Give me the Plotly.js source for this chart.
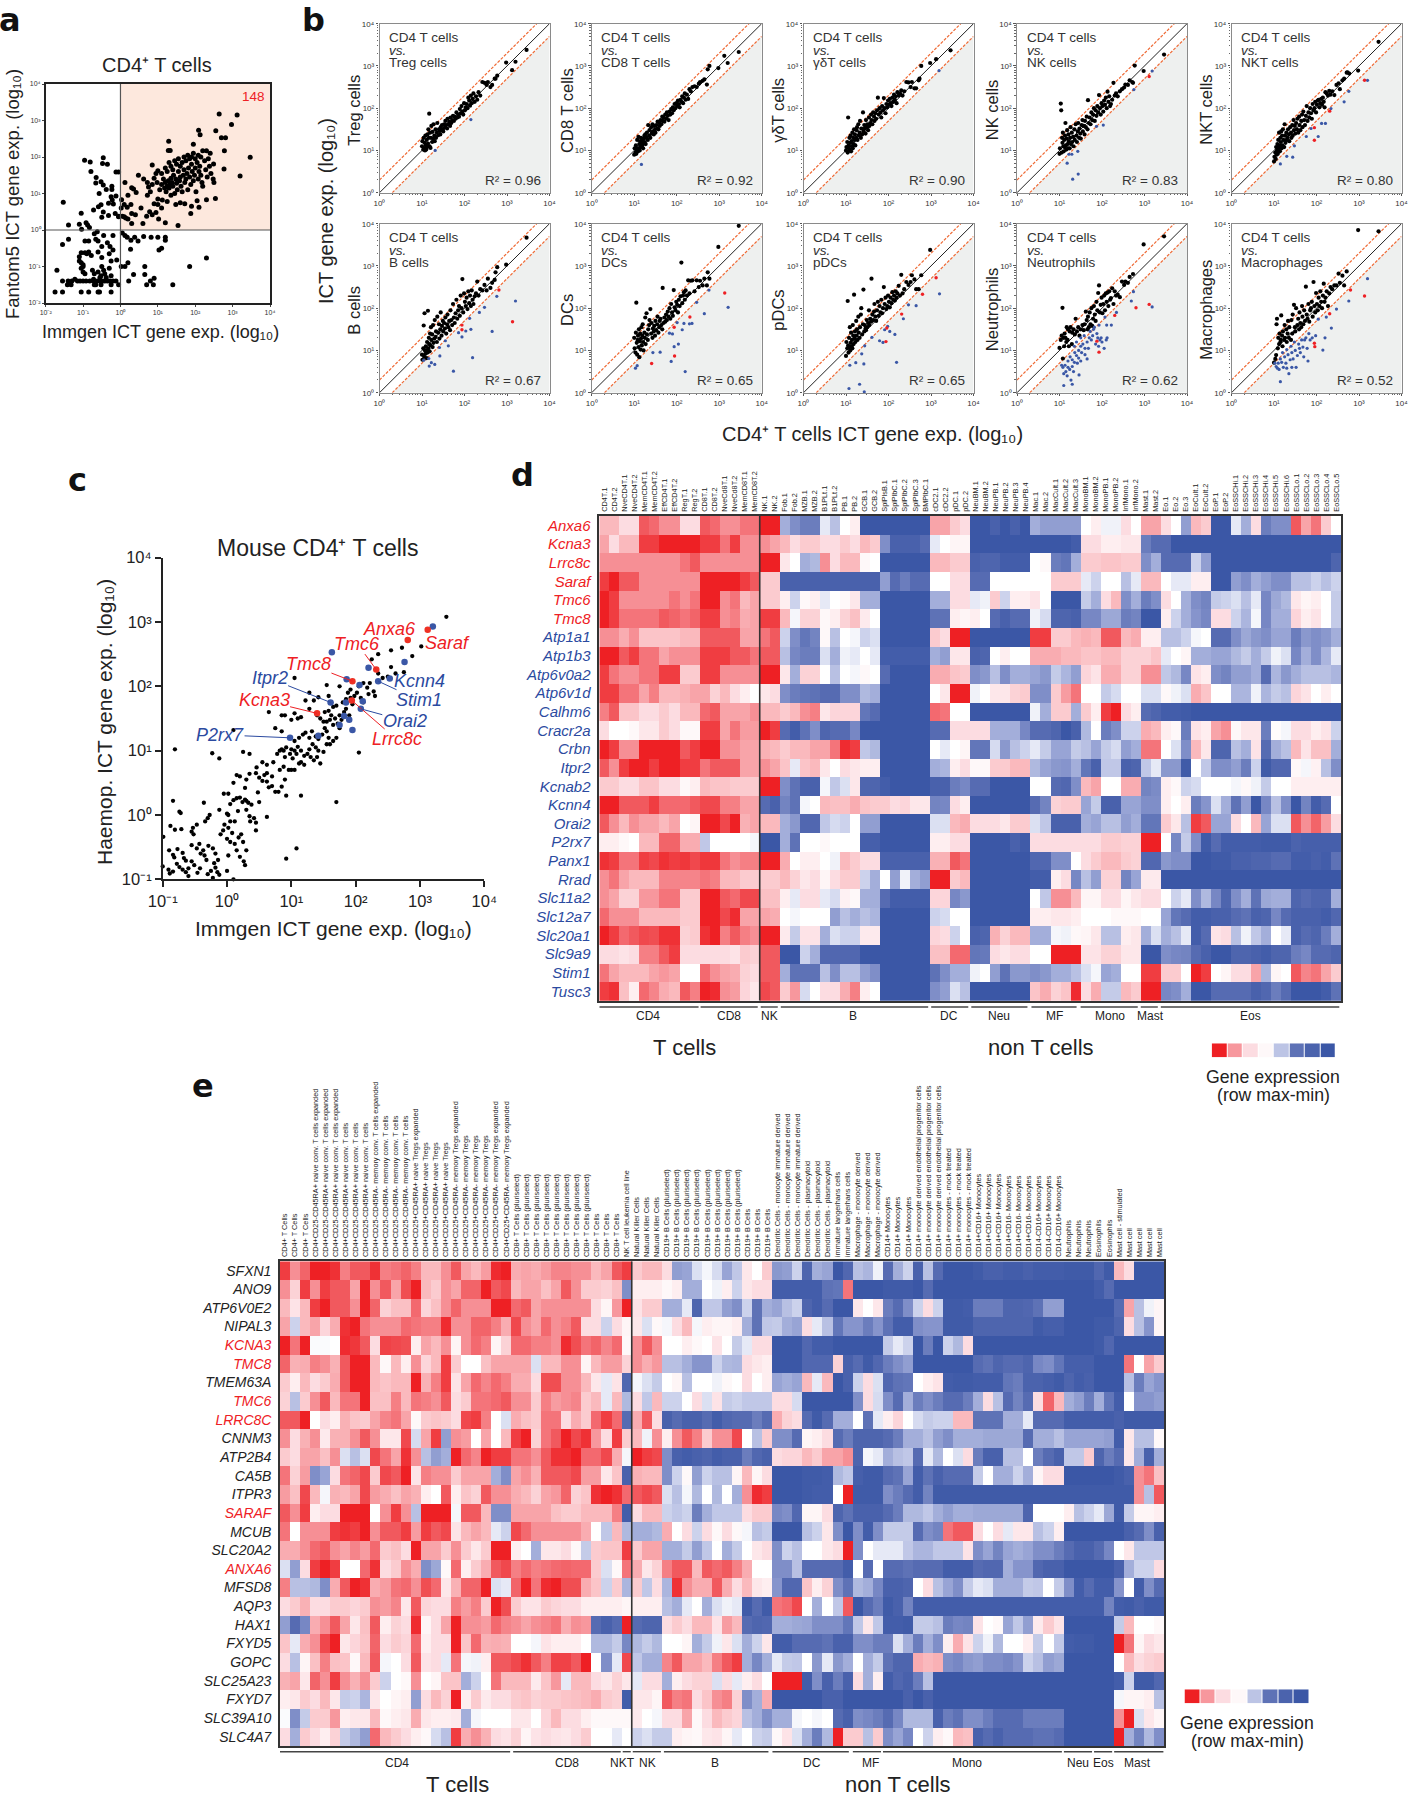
<!DOCTYPE html>
<html>
<head>
<meta charset="utf-8">
<script src="https://cdn.plot.ly/plotly-3.0.1.min.js"></script>
<style>body{margin:0;background:#fff}</style>
</head>
<body>
<div id="chart" style="width:1409px;height:1800px"></div>
<script>
// all expression values are log10, as the axis titles say

// panel a: Immgen vs Fantom5
const aPoints = [
[-.96,1.91],[-.81,1.86],[-.46,1.98],[-.48,1.82],[-.35,1.8],[-.79,1.6],[-.65,1.44],[-.66,1.29],[-.52,1.32],[-.46,1.23],[-.38,1.11],[-.23,1.2],[-.23,1.11],[-.12,1.59],[-.05,1.59],[-.57,1],[-1.53,.76],[-.25,.91],[-.22,.82],[-.32,.73],[-.19,.71],[-.52,.69],[-.59,.64],[-.72,.55],[-1.05,.46],[-.46,.49],[-.32,.4],[-.5,.35],[-.14,.45],[-1.39,.14],[-1.1,.16],[-.92,.2],[-.88,.14],[-.83,.07],[-1.04,.02],[-.05,.38],[-.05,.36],[-.12,.93],
[-1.39,-.25],[-1.55,-.4],[-1.1,-.73],[-1.05,-.62],[-.95,-.3],[-.85,-.3],[-.7,-.1],[-.62,-.05],[-.66,-.25],[-.6,-.3],[-.5,-.45],[-.35,-.35],[-.28,-.45],[-.2,-.55],[-.45,-.15],[-.2,-.15],[-.85,-.6],[-.78,-.7],[-1.1,-.85],[-1.05,-.9],[-1,-.95],[-.95,-.62],[-.9,-.65],[-.6,-.6],[-.5,-.75],[-.3,-.65],[-.25,-.85],[-.1,-.82],[-1.7,-1.1],[-1.05,-1.05],[-1,-1],[-1,-1.15],[-.95,-1.2],[-.75,-1.1],[-.7,-1.2],[-.6,-1.15],[-.5,-1],[-.52,-1.25],[-.45,-1.1],[-.42,-1.2],[-.38,-1.3],[-.3,-1.05],[-.25,-1.25],[-.55,-1.3],[-.72,-1.35],
[-1.55,-1.4],[-1.4,-1.4],[-1.3,-1.4],[-1.22,-1.35],[-1.15,-1.4],[-1.08,-1.4],[-1,-1.4],[-.92,-1.4],[-.82,-1.4],[-.72,-1.4],[-.62,-1.4],[-.55,-1.4],[-.48,-1.4],[-.42,-1.4],[-.35,-1.4],[-.28,-1.4],[-.2,-1.4],[-.12,-1.4],
[-1.42,-1.5],[-1.32,-1.5],[-.7,-1.5],[-.66,-1.5],[-.52,-1.5],[-.25,-1.5],[-.05,-1.5],[-1.75,-1.7],[-1.55,-1.7],[-1.05,-1.7],[-.85,-1.7],[-.6,-1.7],[-.56,-1.7],[-.25,-1.7],
[.05,-.08],[.12,-.15],[.18,-.2],[.38,-.2],[.47,-.3],[.28,-.28],[.27,-.53],[.62,-.18],[.82,-.2],[1,-.2],[1.2,-.2],[1.2,-.28],[1.1,-.5],[1.03,-.55],[.2,-.9],[.12,-1],[.02,-1],[.35,-1.22],[.65,-1],[.65,-1.22],[.8,-1.4],[.9,-1.32],[.88,-1.5],[.7,-1.5],[1.4,-1.5],[.22,-1.4],[1.85,-1],[2.3,-.77],
[.05,.38],[.1,.36],[.14,.33],[.2,.3],[.02,.6],[.1,.7],[.18,.62],[.28,.7],[.03,.83],[.2,.95],[.42,1.03],[.3,1.16],[.35,1.12],[.12,1.3],[.48,1.5],[.62,1.4],[.3,.45],[.3,.18],[.4,.42],[.55,.6],[.6,.18],[.7,.38],[.78,.5],[.85,.42],[.95,.48],[1.02,.3],[1.1,.6],[1.2,.2],[1.54,.12],[1.88,.45],[2.3,.83],[2.54,.86],[.72,.95],[.8,1.05],[.9,.72],[1,.7],[1,.85],[1.12,.82],[1.25,.78],[1.35,.95],[1.48,.7],[1.6,.75],[1.72,.72],[1.9,.65],[2.05,.8],[2.1,.62],
[.75,1.18],[.85,1.25],[.9,1.42],[.72,1.3],[.98,1.3],[1.05,1.1],[1.1,1.25],[1.18,1.15],[1.15,1.4],[1.2,1.3],[1.22,1.05],[1.25,1.2],[1.28,1.35],[1.3,1.15],[1.32,1.25],[1.35,1.42],[1.38,1.3],[1.4,1.2],[1.42,1.5],[1.45,1],[1.48,1.4],[1.5,1.28],[1.52,1.1],[1.55,1.6],[1.58,1.35],[1.6,1.45],[1.62,1.2],[1.65,1.05],[1.68,1.5],[1.7,1.65],[1.72,1.3],[1.75,1.4],[1.78,1.55],[1.8,1.1],[1.82,1.7],[1.85,1.45],[1.88,1.25],[1.9,1.8],[1.92,1.6],[1.95,1.35],[1.98,1.5],[2,1.7],[2.02,1.05],[2.05,1.85],[2.08,1.4],[2.1,1.6],[2.12,1.75],[2.15,1.5],[2.18,1.3],[2.2,1.2],[2.25,1.9],[2.28,1.65],[2.32,1.45],[2.38,1.75],[2.42,1.55],[2.48,1.4],[2.5,1.3],
[1.1,1.55],[1.2,1.7],[1.25,1.6],[1.3,1.85],[1.35,1.75],[1.4,1.65],[1.45,1.9],[1.5,1.8],[1.55,1.95],[1.6,1.75],[1.65,1.85],[1.7,2],[1.75,1.9],[1.8,2.05],[1.85,1.95],[1.9,2],[1.95,2.1],[2,1.95],[2.08,2.05],[2.15,2],[2.2,2.17],[2.3,2.17],[2.4,2.1],[2.35,1.95],[.85,1.78],[.95,1.55],[1,1.62],[1.28,2.18],[1.33,2.18],[1.29,2.43],[1.95,2.35],[2.49,1.81],[2.77,1.67],[2.78,2.17],[3.47,1.99],[3.2,1.48],[2.09,2.73],[2.13,2.61],[2.55,2.72],[2.7,2.53],[2.81,2.53],[2.97,2.89],[2.64,3.18],[3.12,3.15]
];

// panel b: CD4 T cells on x, same genes in all ten panels
const cd4X = [
1.00,1.01,1.03,1.04,1.05,1.06,1.07,1.08,1.09,1.10,
1.11,1.12,1.13,1.14,1.15,1.16,1.17,1.18,1.19,1.20,
1.21,1.22,1.24,1.25,1.26,1.27,1.29,1.30,1.32,1.33,
1.35,1.36,1.38,1.40,1.41,1.43,1.44,1.46,1.47,1.49,
1.50,1.52,1.54,1.55,1.57,1.59,1.60,1.62,1.64,1.66,
1.67,1.69,1.71,1.73,1.75,1.77,1.79,1.81,1.83,1.85,
1.87,1.89,1.91,1.93,1.95,1.97,1.99,2.01,2.03,2.05,
2.07,2.09,2.11,2.13,2.15,2.17,2.19,2.21,2.24,2.27,
2.30,2.33,2.37,2.42,2.47,2.52,2.55,2.61,2.65,2.71,
2.73,2.77,2.98,3.12,3.20,3.46];
const yTreg = [
1.10,1.22,1.02,1.30,1.05,1.18,1.00,1.35,1.12,1.02,
1.25,1.08,1.38,1.16,1.50,1.30,1.87,1.10,1.42,1.06,
1.30,1.58,1.20,1.44,1.28,1.62,1.35,1.22,1.50,1.30,
1.42,1.65,1.36,1.50,1.46,1.38,1.55,1.48,1.60,1.50,
1.45,1.62,1.55,1.70,1.60,1.52,1.75,1.62,1.68,1.58,
1.78,1.65,1.72,1.82,1.70,1.80,1.75,1.90,1.78,1.85,
1.80,1.98,1.88,2.05,1.92,1.85,2.12,1.95,2.02,2.10,
2.00,2.25,2.18,2.06,2.30,2.12,2.22,2.35,2.15,2.28,
2.20,2.38,2.30,2.62,2.60,2.55,2.62,2.50,2.55,2.70,
2.70,2.77,3.08,2.90,3.10,3.38];
const yCd8 = [
0.90,1.05,0.95,1.12,0.92,1.00,1.25,1.05,0.98,1.32,
1.02,1.15,1.00,1.22,1.08,1.30,1.18,1.10,1.25,1.14,
1.05,1.28,1.35,1.20,1.38,1.15,1.30,1.42,1.25,1.60,
1.35,1.48,1.30,1.55,1.40,1.62,1.45,1.38,1.58,1.50,
1.42,1.60,1.52,1.68,1.50,1.65,1.58,1.72,1.62,1.80,
1.70,1.78,1.68,1.85,1.75,1.90,1.82,1.72,1.92,1.85,
1.98,1.88,2.02,1.95,2.10,2.00,2.12,2.06,2.18,2.10,
2.02,2.20,2.15,2.28,2.12,2.25,2.35,2.20,2.32,2.22,
2.45,2.40,2.50,2.52,2.50,2.58,2.62,2.65,2.68,2.56,
2.92,3.00,2.95,3.24,3.07,3.33];
const yGd = [
1.00,1.08,1.20,0.95,1.78,1.12,1.05,1.30,1.00,1.18,
1.35,0.98,1.22,1.10,1.42,1.05,1.30,1.15,1.50,1.25,
1.38,1.12,1.30,1.48,1.55,1.25,1.62,1.36,1.42,1.70,
1.30,1.52,1.38,1.90,1.45,1.60,1.52,1.40,1.72,1.55,
1.62,1.48,1.78,1.58,1.65,1.85,1.72,1.62,1.90,1.80,
1.70,1.88,1.75,1.95,2.25,1.85,2.00,1.90,1.78,2.05,
1.95,2.24,2.00,1.88,2.10,2.02,2.18,2.08,2.22,2.12,
2.05,2.25,2.15,2.32,2.20,2.28,2.12,2.38,2.30,2.35,
2.42,2.30,2.40,2.62,2.61,2.50,2.62,2.47,2.47,2.66,
2.70,3.00,3.07,3.16,null,3.37];
const yNk = [
0.92,1.05,2.11,1.95,0.95,1.30,1.18,1.42,1.10,0.98,
1.25,1.08,1.35,1.65,1.12,1.02,1.28,1.48,1.15,1.05,
1.38,1.22,1.05,1.30,1.55,1.15,1.42,1.20,1.32,1.10,
1.50,1.25,1.62,1.35,1.20,1.45,1.65,1.30,1.52,1.40,
1.28,1.60,1.72,1.45,1.58,1.38,1.70,1.55,1.80,1.50,
2.19,1.65,1.78,1.62,1.90,1.72,1.85,2.00,1.70,1.95,
1.82,2.05,1.90,2.31,2.00,1.85,2.12,2.05,1.92,2.18,
2.08,2.25,2.00,2.39,2.15,2.28,2.05,2.10,2.20,2.60,
2.30,2.35,2.28,2.40,2.45,2.49,2.56,2.55,2.66,2.62,
2.60,3.01,2.88,null,null,3.27];
const yNkt = [
0.74,0.85,0.95,0.80,1.08,0.90,1.00,1.15,0.92,1.25,
1.05,1.42,1.12,0.98,1.30,1.20,1.45,1.05,1.35,1.12,
1.50,1.25,1.08,1.62,1.35,1.18,1.42,1.25,1.30,1.50,
1.38,1.22,1.55,1.42,1.30,1.60,1.35,1.72,1.48,1.58,
1.40,1.65,1.50,1.75,1.42,1.80,1.60,1.48,1.70,1.85,
1.55,1.92,1.72,1.60,1.82,2.05,1.70,1.90,1.78,2.00,
1.88,1.75,2.10,1.95,2.00,2.15,1.90,2.08,2.18,2.20,
2.02,2.12,2.22,2.08,2.25,2.15,2.02,2.38,2.35,2.30,
2.41,2.32,2.40,2.31,2.55,2.59,2.45,2.66,2.70,2.84,
2.85,2.82,2.89,null,null,3.57];
const yB = [
0.90,0.78,1.05,1.59,0.85,1.88,1.00,0.92,1.10,1.00,
0.82,1.20,0.95,1.94,1.05,1.30,1.15,0.98,1.40,1.12,
1.55,1.25,1.38,1.08,1.60,1.18,1.28,1.72,1.32,1.45,
1.20,1.80,1.42,1.62,1.28,1.50,1.90,1.35,1.58,1.70,
1.45,1.65,1.52,1.78,1.40,1.62,1.85,1.55,1.70,1.48,
1.95,1.72,1.60,2.10,1.78,1.65,1.88,2.20,1.75,1.95,
2.05,1.82,2.30,2.00,2.69,1.90,2.35,2.15,2.05,2.25,
1.98,2.40,2.12,2.30,2.05,2.42,2.20,2.10,2.28,2.35,
2.63,2.30,2.45,2.42,2.55,2.42,2.70,2.48,2.60,2.67,
2.85,2.97,3.03,null,null,3.67];
const yDc = [
1.30,1.05,0.95,1.42,2.13,1.18,0.90,1.25,1.35,1.08,
1.50,0.84,1.22,1.40,1.02,1.28,1.55,1.12,1.35,1.62,
1.20,1.00,1.42,1.30,1.78,1.15,1.88,1.38,1.25,1.50,
1.60,1.72,1.98,1.40,1.65,1.30,1.52,1.45,1.58,1.35,
1.70,1.48,1.62,1.80,1.42,1.55,1.70,1.75,1.60,1.50,
2.48,1.65,1.78,1.68,1.85,1.72,1.92,1.80,2.00,1.75,
2.10,1.90,1.82,2.43,2.02,1.95,2.15,2.08,1.90,2.20,
2.05,2.28,3.08,2.12,2.30,2.38,2.20,2.42,2.30,2.66,
2.35,2.65,2.66,2.40,2.66,2.50,2.65,2.54,2.70,2.54,
2.85,2.70,3.45,null,null,3.95];
const yPdc = [
0.87,1.20,1.05,2.17,1.12,0.95,1.30,1.08,1.55,1.00,
1.18,1.42,1.10,1.25,1.05,1.60,1.35,1.15,2.32,1.28,
1.45,1.20,1.70,1.35,1.50,1.25,1.80,1.42,1.30,1.55,
1.85,2.00,1.38,1.62,2.44,1.45,1.60,1.52,1.48,1.72,
1.55,1.65,1.95,1.60,1.75,1.68,2.70,1.85,1.72,1.92,
2.10,1.80,1.70,1.95,2.15,1.82,2.05,1.90,2.20,1.88,
2.00,2.50,2.10,2.25,1.98,2.05,2.30,2.15,2.02,2.25,
2.12,2.38,2.20,2.30,2.18,2.40,2.25,2.35,2.53,2.30,
2.79,2.35,2.45,2.62,2.55,2.62,2.78,2.68,2.45,2.45,
null,2.78,3.38,null,null,null];
const yNeut = [
1.06,null,1.25,null,1.35,null,2.01,0.81,1.30,null,
1.10,1.40,null,1.30,null,1.20,1.55,null,1.25,1.50,
null,1.10,1.45,null,1.55,null,1.15,1.42,null,1.50,
null,1.38,1.75,null,1.45,null,1.55,null,1.35,null,
1.50,null,1.60,null,1.48,1.62,null,1.92,1.72,1.50,
1.80,1.55,1.90,1.62,2.00,1.58,1.75,2.05,1.85,1.70,
2.15,1.95,2.36,2.54,1.90,2.08,2.25,1.88,2.10,2.30,
1.95,2.35,2.15,2.37,2.05,2.40,2.20,2.24,2.47,2.10,
2.40,2.30,2.32,2.26,2.63,2.55,2.63,2.60,2.74,null,
2.81,null,3.51,null,null,3.70];
const yMac = [
0.71,null,0.80,null,0.89,1.62,1.75,null,1.05,1.30,
null,1.15,1.40,null,1.20,1.25,1.83,null,1.35,1.10,
1.45,null,1.25,1.60,1.30,null,1.50,1.20,1.40,1.70,
1.30,1.55,null,1.25,1.72,1.40,1.85,null,2.08,1.55,
1.45,2.00,null,1.60,1.75,1.50,1.90,1.65,1.55,2.05,
1.80,1.62,1.95,1.70,2.51,1.85,1.75,2.10,1.68,1.95,
2.00,2.15,1.80,2.62,2.05,1.90,2.36,2.10,1.95,2.25,
2.05,2.40,2.15,2.00,2.30,2.58,2.15,2.25,2.40,2.05,
2.35,2.50,2.45,2.54,2.54,2.82,2.60,2.77,2.54,2.87,
null,null,3.85,null,null,3.82];

const blueTreg = [[2.15,1.73],[1.31,1.0]];
const blueCd8 = [[1.17,.67]];
const blueGd = [[3.19,2.89]];
const blueNk = [[3.18,2.88],[2.75,2.44],[1.87,1.57],[2.03,1.6],[1.43,.98],[1.29,.91],[1.22,.91],[1.18,.7],[1.44,.44],[1.31,.32]];
const redNk = [[3.11,2.75]];
const blueNkt = [[3.2,2.66],[2.76,2.4],[2.65,2.15],[2.34,1.99],[2.21,1.64],[2.12,1.64],[1.87,1.52],[2.04,1.33],[1.76,1.33],[1.48,1.11],[1.3,.86],[1.44,.84],[1.15,.68]];
const redNkt = [[3.13,2.66],[2.31,1.93],[1.95,1.54],[1.95,1.24]];
const blueB = [[3.2,2.17],[2.76,2.28],[2.47,2.02],[2.35,1.9],[2.65,1.45],[2.19,.83],[1.74,.51],[2.12,1.76],[2.15,1.5],[2.03,1.46],[1.94,1.32],[1.86,1.42],[1.62,1.11],[1.55,1.23],[1.41,1.07],[1.42,.87],[1.16,.81],[1.17,.63],[1.22,.71],[1.3,.67],[1.04,.77]];
const redB = [[2.81,2.43],[3.13,1.68],[1.94,1.6],[1.94,1.49]];
const blueDc = [[3.21,2.02],[2.76,2.43],[2.47,2.14],[2.65,1.87],[2.36,1.64],[2.3,1.63],[2.17,1.64],[2.13,1.49],[2.01,1.66],[1.9,1.39],[1.83,1.41],[2.04,1.15],[1.94,1.09],[1.87,.74],[2.2,.5],[1.61,.96],[1.44,.95],[1.07,.64],[1.03,.58]];
const redDc = [[3.13,2.36],[2.31,1.79],[1.94,1.55],[1.95,.87],[1.41,.69]];
const bluePdc = [[3.2,2.34],[2.47,2.08],[2.65,2.06],[2.35,1.75],[1.91,1.49],[1.98,1.57],[2.03,1.45],[2.15,1.38],[1.79,1.23],[1.87,1.19],[1.61,1.31],[1.44,1.11],[1.37,.92],[1.23,.71],[1.09,.65],[1.42,.68],[2.19,.72],[1.32,.2],[1.07,.1],[1.43,.02]];
const redPdc = [[3.12,2.72],[2.8,2.33],[2.31,1.86],[1.96,1.53],[1.94,1.21]];
const blueNeut = [[2.74,2.39],[2.69,2.17],[3.18,2.03],[2.34,1.9],[2.07,1.79],[2.11,1.6],[2.22,1.6],
[1.05,.65],[1.08,.6],[1.1,.45],[1.13,.65],[1.15,.5],[1.18,.4],[1.2,.6],[1.24,.55],[1.27,.3],[1.3,.2],[1.1,.17],[1.3,.62],[1.33,.5],[1.2,.75],[1.25,.85],[1.3,.78],[1.35,.72],[1.36,.95],[1.4,.88],[1.42,.7],[1.45,.82],[1.5,.75],[1.46,.42],[1.45,1.0],[1.5,1.1],[1.52,.95],[1.55,1.15],[1.6,.9],[1.6,1.05],[1.65,.8],[1.65,1.2],[1.68,1.05],[1.7,1.3],[1.72,1.45],[1.75,1.25],[1.78,1.35],[1.8,1.5],[1.82,1.55],[1.85,1.15],[1.88,1.4],[1.9,1.3],[1.92,1.1],[1.95,1.25],[1.98,1.3],[2.0,1.2],[2.05,1.05],[2.1,1.25],[2.12,1.3],[1.93,1.6],[1.58,1.35],[1.5,1.3],[1.4,1.2],[1.35,1.1]];
const redNeut = [[3.11,2.09],[2.8,2.01],[2.3,1.83],[1.88,1.22],[1.93,.96]];
const blueMac = [[3.2,2.7],[2.76,2.17],[2.47,1.98],[2.23,1.79],[2.04,1.74],[2.35,1.53],[2.2,1.3],[2.15,1.01],[1.15,.26],
[1.02,.7],[1.05,.62],[1.08,.58],[1.1,.7],[1.12,.55],[1.15,.8],[1.18,.72],[1.2,.95],[1.22,.6],[1.25,.85],[1.28,.7],[1.3,.58],[1.3,1.02],[1.33,.9],[1.35,.45],[1.38,.78],[1.4,1.1],[1.42,.6],[1.42,.95],[1.45,.8],[1.48,1.2],[1.5,1.0],[1.52,.6],[1.55,.88],[1.58,1.15],[1.6,1.05],[1.62,.95],[1.65,1.25],[1.68,1.08],[1.7,.85],[1.72,1.25],[1.75,1.3],[1.78,1.05],[1.82,1.4],[1.85,1.25],[1.9,1.3],[1.8,.75],[1.98,1.35]];
const redMac = [[2.8,2.43],[3.13,2.29],[2.31,1.87],[1.95,1.17],[1.96,1.09]];

const panelNames = ['Treg cells','CD8 T cells','γδT cells','NK cells','NKT cells','B cells','DCs','pDCs','Neutrophils','Macrophages'];
const panelR2 = ['0.96','0.92','0.90','0.83','0.80','0.67','0.65','0.65','0.62','0.52'];
const panelY = [yTreg,yCd8,yGd,yNk,yNkt,yB,yDc,yPdc,yNeut,yMac];
const panelBlue = [blueTreg,blueCd8,blueGd,blueNk,blueNkt,blueB,blueDc,bluePdc,blueNeut,blueMac];
const panelRed = [[],[],[],redNk,redNkt,redB,redDc,redPdc,redNeut,redMac];

// panel c: mouse CD4 T cells
const cBlack = [
[-.99,-.34],[-1,-.8],[-.91,-.85],[-.89,-.91],[-.84,-.88],[-.84,-.62],[-.82,-.66],[-.77,-.53],[-.78,-.76],[-.74,-.81],[-.69,-.59],[-.67,-.67],[-.64,-.71],[-.69,-.85],[-.64,-.89],[-.6,-.83],[-.55,-.47],[-.51,-.78],[-.46,-.9],[-.42,-.83],[-.41,-.6],[-.47,-.52],[-.43,-.45],[-.37,-.55],[-.35,-.63],[-.32,-.7],[-.29,-.48],[-.22,-.52],[-.18,-.6],[-.2,-.75],[-.14,-.7],[-.25,-.87],[-.18,-.82],[-.15,-.89],[-.22,-.98],[-.12,-.93],[-.88,-.17],[-.81,-.23],[-.71,-.22],[-.84,.22],[-.74,.05],[-.72,.03],[-.36,.19],[-.55,-.26],[-.53,-.2],[-.47,-.15],[-.52,-.3],[-.3,-.05],[-.27,.0],[-.34,-.1],[-.12,.08],[-.1,-.3],[-.06,-.24],[-.04,-.15],[0,.02],[.02,.0],[.05,-.1],[.08,-.28],[.0,-.37],[.05,-.42],[.12,-.45],[.15,-.55],[.18,-.35],[.22,-.3],[.25,-.42],[.2,-.65],[.28,-.78],[.26,-.72],[.3,-.55],[.02,-.2],[.12,-.1],[.17,.06],[.3,.08],[.35,-.02],[.36,-.1],[.45,-.12],[.42,-.05],[.45,-.24],[.5,.2],[.48,.35],[.62,-.03],
[-.05,.33],[.02,.33],[.05,.17],[.1,.23],[.15,.26],[.2,.27],[.24,.2],[.28,.24],[.3,.22],[.33,.19],[.38,.16],[.28,.42],[.1,.5],[.15,.62],[.2,.6],[.3,.55],[.35,.64],[.45,.65],[.5,.58],[.55,.53],[.58,.62],[.62,.52],[.65,.43],[.7,.45],[.75,.36],[.8,.36],[.85,.44],[.92,.3],[.9,.55],[.82,.7],[.88,.75],[.7,.6],[.62,.78],[.72,.82],[.78,.95],[.82,1.0],[.85,1.02],[.9,.9],[.98,.95],[1.02,.88],[1.08,.95],[1.12,.8],[1.15,.82],[1.2,.78],[1.05,.7],[1.0,.7],[.96,.7],[.62,.65],[.25,.98],[.35,.95],[-.23,.96],[-.12,.88],[-.81,1.02],[.55,.82],[.46,.74],
[.88,1.0],[.92,1.05],[1.0,1.02],[1.05,1.0],[1.1,1.06],[1.15,1.0],[1.2,.92],[1.25,.95],[1.3,.9],[1.35,.85],[1.4,.9],[1.45,.8],[1.28,1.02],[1.33,1.1],[1.38,1.05],[1.42,1.0],[1.5,.98],[1.55,1.1],[1.05,1.15],[1.12,1.2],[1.18,1.25],[1.22,1.28],[1.28,1.2],[1.32,1.3],[1.38,1.22],[1.42,1.18],[1.48,1.25],[1.52,1.35],[1.55,1.3],[1.58,1.2],[1.6,1.1],[1.65,1.15],[1.7,1.2],[1.75,1.35],[1.72,1.42],[1.65,1.4],[1.6,1.48],[1.55,1.45],[1.5,1.45],[1.45,1.5],[1.4,1.55],[1.52,1.6],[1.58,1.62],[1.62,1.55],[1.68,1.5],[1.75,1.55],[1.78,1.48],[1.82,1.6],[1.85,1.65],[1.9,1.55],[1.95,1.72],[1.7,1.7],[1.62,1.75],[1.58,1.85],[1.65,1.68],[1.8,1.75],[1.85,1.8],[1.88,1.9],[1.92,1.82],[1.98,1.85],[2.02,1.9],[2.08,1.82],[2.12,1.75],[2.05,2],[2.12,2.05],[2.18,1.98],[2.22,2.05],[2.2,1.88],[2.28,1.92],[2.3,1.85],[1.92,1.95],[1.75,2.0],[1.42,1.83],[1.35,1.78],[1.28,1.65],[1.22,1.78],[1.15,1.52],[1.1,1.5],[1.05,1.58],[1.0,1.48],[.85,1.3],[.75,1.35],[.9,1.55],[1.28,1.9],[1.55,2.02],[.1,1.32],[.65,1.6],[.85,1.55],[1.05,2.13],[1.15,.3],[1.7,.2],
[2.05,.97],[1.08,-.52],[.92,-.68],[2.55,2.3],[2.35,2.5],[2.55,2.56],[2.72,2.6],[2.88,2.47],[3.02,2.62],[3.41,3.08],[2.25,2.42],[2.62,2.2],[2.75,2.22],[2.42,2.13],[2.5,2.15],[2.35,2.2],[-.55,-.72],[-.3,-.92],[.0,-.87],[.02,-.63],[-.9,-.55],[.1,-1],[-.6,-.95]
];
const cBlue = [[3.2,2.93],[1.63,2.53],[2.76,2.38],[2.2,2.29],[1.86,2.11],[2.53,2.12],[2.35,2.08],[2.06,2.02],[1.61,1.75],[1.85,1.75],[2.11,1.77],[2.08,1.65],[1.82,1.54],[1.9,1.48],[1.75,1.4],[1.95,1.32],[1.42,1.23],[.98,1.2]];
const cRed = [[3.12,2.88],[2.81,2.72],[2.32,2.26],[1.95,2.08],[1.94,1.78],[1.4,1.58]];
const cLabels = ['Anxa6','Saraf','Tmc6','Tmc8','Lrrc8c','Kcna3','Itpr2','P2rx7','Kcnn4','Stim1','Orai2'];

// panel d: mouse heat map, 0 = row min (blue), 5 = white, 10 = row max (red)
const dGenes = ['Anxa6','Kcna3','Lrrc8c','Saraf','Tmc6','Tmc8','Atp1a1','Atp1b3','Atp6v0a2','Atp6v1d','Calhm6','Cracr2a','Crbn','Itpr2','Kcnab2','Kcnn4','Orai2','P2rx7','Panx1','Rrad','Slc11a2','Slc12a7','Slc20a1','Slc9a9','Stim1','Tusc3'];
const dRedGenes = ['Anxa6','Kcna3','Lrrc8c','Saraf','Tmc6','Tmc8'];
const dSamples = ['CD4T.1','CD4T.2','NveCD4T.1','NveCD4T.2','MemCD4T.1','MemCD4T.2','EffCD4T.1','EffCD4T.2','RegT.1','RegT.2','CD8T.1','CD8T.2','NveCd8T.1','NveCd8T.2','MemCD8T.1','MemCD8T.2','NK.1','NK.2','Fob.1','Fob.2','MZB.1','MZB.2','B1PLt.1','B1PLt.2','PB.1','PB.2','GCB.1','GCB.2','SplPlsB.1','SplPlbC.1','SplPlbC.2','SplPlbC.3','BMPlbC.1','cDC2.1','cDC2.2','pDC.1','pDC.2','NeuBM.1','NeuBM.2','NeuPB.1','NeuPB.2','NeuPB.3','NeuPB.4','Mac.1','Mac.2','MacCult.1','MacCult.2','MacCult.3','MonoBM.1','MonoBM.2','MonoPB.1','MonoPB.2','InfMono.1','InfMono.2','Mast.1','Mast.2','Eo.1','Eo.2','Eo.3','EoCult.1','EoCult.2','EoP.1','EoP.2','EoSSCHi.1','EoSSCHi.2','EoSSCHi.3','EoSSCHi.4','EoSSCHi.5','EoSSCHi.6','EoSSCLo.1','EoSSCLo.2','EoSSCLo.3','EoSSCLo.4','EoSSCLo.5'];
const dValues = [
[7,7,6,6,9,8.7,8,8,6,6,9,8.7,8,8,8.5,8.5,10,10,3,2,1.5,1.5,4.5,3.5,5,5.5,0,0,0,0,0,0,0,7.5,7.5,6.5,6,0,0,.5,0,.5,0,3,2.5,2.5,2.5,2.5,5,5.5,4.7,4.7,6,5,7.5,7.5,6,5,2.5,7,6.5,0,0,4.5,3,6,1.5,2,2,9,7.5,8.5,6.5,5],
[7.5,6,7,7,9.5,9.5,10,10,10,10,9.5,9.5,8.5,9.5,8,8,8,7.5,7,6,6.5,6.5,6,6,6.5,6,7,6.5,2,.5,.5,.5,1,4.5,5,5.3,5.3,0,0,0,0,0,0,0,0,0,0,.3,6,6,5.5,5.5,5.7,5.7,1.5,1,1,0,0,0,0,0,0,0,0,0,0,0,0,0,0,0,0,0],
[8,8,8,8,8,8,8,8,8.5,9,8,8,8,8,8,8,10,10,5.7,5,3,3.3,8,6,7,7,5.2,5,0,0,0,0,0,7,7,6.5,6.5,.5,.7,.7,.3,.3,.3,5,5.2,1.5,1.3,3,6.5,6.5,6.7,6.7,6.5,6.5,2,3,1,1,1,4,2.5,0,0,0,0,0,0,0,0,0,0,0,0,.7],
[9.5,10,9,9,8,8,8,8,8,8,10,10,10,10,9.5,9,6.5,6.5,.5,.5,.5,.5,.5,.5,.5,.5,.5,.5,2.5,1,1.5,1,1,5,5,6,6,1,1,5,5,5,5,5,5,6.5,6.5,6.5,4.5,4,5,5,3.5,4.5,7,7,5,4.5,4.5,5.5,5.5,0,0,2.5,2,3,2.5,2,2,3.5,3.5,4,3.5,4],
[10,9.5,8,8,8,8,8,8.5,8,8.5,10,10,8,8.5,7,7.5,6.5,6.5,5.5,4,5.2,5.5,4.5,5,5.2,5.7,3,3,0,0,0,0,0,3,3,6,6,4.5,4.7,6.5,4,5.5,5.5,5.8,5,0,0,0,3.8,3,6,7,2,3,1.5,2,6,5,3,2,1.7,3.8,4,4.3,3.5,4.5,1.8,2.8,3.3,5.7,5.3,5.5,5,3.8],
[10,9.5,8.5,8.5,8.5,8.5,9,8.8,8.5,8.8,9.5,9.5,8,8.3,7.3,7.5,9.5,9.5,7,4.8,6.3,6.3,5.2,5.5,6.3,6.8,5.6,5,0,0,0,0,0,1.2,1.2,5.5,5.3,5.5,5,1,.5,1,1,4.7,4.2,.7,.7,.5,1.8,1.8,2.8,2.8,1.5,1.7,0,0,5.5,4,3,2.2,1.8,6,6,4,3.2,4.8,1.8,3,3,6.2,5.5,5.8,5,3.8],
[8,8,7.3,8,6.7,6.7,6.7,6.7,7,7,9,9,9,9,7.5,7.5,8.5,9,4,2,1.3,1.7,5.2,3.5,5,4.8,4,4.3,0,0,0,0,0,6.5,6,10,10,0,0,0,0,0,0,9.5,9.5,6.5,6.5,7,7.2,7,9,9,7,7.3,5.5,5.5,3.5,3.5,4,4.8,5,1,1,2,2.8,2.3,2,2.7,2.7,1.5,2.3,2,2.3,3],
[10,10,9,9.5,8.5,8.5,7.5,8,8,8,9.5,9.5,9.5,9,9,8.5,9,9,3.5,1.8,1.5,1.5,4.3,3,4.7,4.5,5,4.5,.3,.3,.3,.3,.3,3,2.5,5.7,5.7,.5,.7,5,5.5,5,5,7.3,7.3,7.3,7,7,6.7,6.7,7,7,6.3,6.3,6.3,6.7,4.5,5,5.3,3,3,2.7,2.7,3.3,3.8,3,3.8,4.7,4.3,1.8,3,2,3.2,4.5],
[9.5,8.5,8,8,8.5,8.5,9.5,9.5,6.5,6.5,9.5,9.5,8,8,8,8,10,10,5.7,3,6.3,6.3,5,3.5,5,4.8,5.2,5,1,0,0,0,0,7.3,7.3,6.7,6.5,2,2.3,3.5,2,3,3,2.7,2.3,3.8,3.2,2.5,6.2,5.8,7.3,7.3,6.3,6.3,8,8,3.7,3.3,1.8,5.8,5.5,2,1.7,2.5,2.5,3,1,3.2,2.3,3,3.5,3.5,3.5,3.2],
[9.5,9.5,8.5,8.5,7.5,8.3,7,7,7.2,7.5,7.5,6.3,7,6,5.5,5,5.7,6,2,1.5,1.3,1.2,1,1,2,2,3.3,3,0,0,0,0,0,5,5.7,10,10,4.7,5,5.7,5.7,6.3,6.5,2,2,6.5,7.7,8.5,5,5,3.8,4.2,5,5,4.3,4.3,5.2,4.7,4.3,7.3,6.7,5,5,3.2,3.2,4.7,3.2,3.8,3.5,6.2,5.8,5,5.5,5],
[8.3,9,6.7,6.7,6,6,6.5,6,7,7,8.7,9,7.5,7.5,7.5,8,7,7,6.5,7,8,8.3,5.7,6.2,6.2,6.2,1.3,1,0,0,0,0,0,8.7,8.5,5,5,0,0,0,0,0,0,4.7,3,6.5,6.5,3,6.5,5.5,9.5,10,6,5.5,1,.7,.3,.3,.2,0,0,0,0,0,0,0,0,0,0,0,0,0,0,0],
[6,5,5,5.2,5.7,5.7,6.5,6,5.2,5.2,9.5,9.5,7.5,8.5,7.7,7.7,10,9.5,1,.3,1.2,2,.7,1,1,1.8,0,0,0,0,0,0,0,1,1,6,6,6,6,3,3,3,1.8,1,1,.7,0,.5,3.3,5,1.5,2,4,4,7.3,7,5.5,5.2,1.5,5.8,5.5,7.5,8,5.2,5.7,5.7,1.5,5.1,4.8,6,6,5.5,5.8,4],
[10,9.5,8,8,10,10,10,10,9,9.5,10,10,8,8,7.5,7.5,7.2,7,6.5,7,7,7.5,7.5,8.5,9.8,9.5,3.7,3.3,0,0,0,0,0,5,4.5,5,5.3,1.3,1.3,4.2,2.3,3.5,4,4.5,3.8,2.7,2.7,3.8,3.5,2.7,3.8,4.2,2.5,3,8.5,8.5,5,4.3,2,7,5.7,.7,.7,3.5,3,5.8,1,3,3.5,7,5.8,6.8,6.8,3],
[9,8,9.5,10,10,9.5,10,10,9.5,9.5,8.5,9,9,9,7.5,7.5,8,7.5,6.7,4.5,6.7,7,5.7,5,6,5.7,5.5,5.5,0,0,0,0,0,3,3.2,5.5,6,5.2,5.2,6.5,6.5,7,7,3.3,2.7,2.3,2.2,3,1.3,.5,3.7,3.7,.5,.7,3.7,4.5,2.3,2.3,.2,5,3.7,2,2,2.5,1.5,4,.2,.8,.8,5.2,4.8,5.4,3.5,2],
[6.5,6.5,6,6,6.7,6.7,6,6,5.2,5.5,7,6.7,6.7,6.5,6.5,6.5,10,10,2,1.2,.5,.5,4.8,3.7,4.3,5.7,.7,.7,.3,0,0,0,0,.5,.5,1.5,1.8,1,1,0,0,0,0,5,5,1,.8,2,7,7.5,5,5,7.3,7.3,1.7,1.9,5.5,5.2,4,4.2,5,5,5,4.8,5.2,4.7,3.8,5,5,5.5,5.5,5.5,5.5,5.5],
[10,10,9,9,9,9.5,8.7,8.7,8.7,9,9.3,9.3,8.3,8.3,7.5,7.5,1,.5,1.7,1.2,4.8,5,7,6.8,6.8,7.3,6.7,6.5,6.5,6,6.2,5.7,5.7,1.7,1.8,6,5.5,0,0,0,0,0,0,1,1.7,6.3,6.5,6.5,2.7,3.8,.5,.5,2.7,2.7,2,2,5.5,5,5.5,1.5,2.2,4.3,3,1.2,2.5,0,1.8,3.5,2,0,1.7,.3,1,5],
[9,8,7,8,7.5,7.5,7,7.5,5,5.3,10,10,9.3,10,7.2,7.5,7,7,3,2.3,.8,.8,3.7,4.2,4,5,2.5,2.5,0,0,0,0,0,4.3,4.3,7,7.3,6,6,6,5.7,6.5,6.5,4.3,3.7,.5,.5,.5,3,2.7,3.5,3.5,2.5,3,1.3,1.3,6.5,5.7,3.5,9.5,9,2.7,2.7,6,5,7,2.7,4.3,4.3,9,8,8.8,7.7,6],
[5.5,5.5,5.2,5,7,7,8.8,8.8,7.3,7.3,3.7,5,5,5,5,4.8,0,0,3,1.2,5,5,5.2,5,5,5,.4,.4,0,0,0,0,0,5.5,5.5,6,6,0,0,0,0,.5,.2,6,6,6,6,6,6,6,6.5,6.5,6.3,6.3,10,10,5,1.8,3.8,2,.2,1,.3,.3,.3,.3,.2,.2,.2,.6,.4,.4,.4,.4],
[9.7,9.5,8.5,8.5,9.5,9.3,9.7,9.5,9.6,9.3,9.6,9.6,8.5,8,8.3,8.3,10,10,7.3,5,5.5,5.5,5,4.7,7,6.5,6,6,.5,.5,.5,.5,.5,7.2,7.2,9,8.5,0,0,0,0,0,0,.8,.8,2,2,5,6,6.5,7,7,6.5,6.3,.8,.8,2.3,2,2,0,0,.2,.2,.5,.5,.7,.7,1,1,.3,.3,.5,.3,1.2],
[8,8.5,7.5,7,7,7,8.2,8.2,8.2,8.2,8.5,8.3,7,7,6.5,6.5,6.5,6.5,7,6.3,5.7,6,5.3,6,6.5,6.5,4,3,5,2.5,4.7,3,2.5,10,10,6.5,7,0,0,0,0,0,0,.3,.3,5.5,6,1.8,3.5,2.5,6.3,6.3,1.7,2.7,5.6,5.6,0,0,0,0,0,0,0,0,0,0,0,0,0,0,0,0,0,0],
[8,7.5,6.3,6.3,7.8,7.8,8.5,8.5,6.5,6.5,10,10,9,8.7,9.3,9.3,6.8,6.8,5.5,4.5,6,6,4.5,4.2,5.4,5.2,3,3,1,.3,.3,.3,.3,6.2,6.2,1.8,2.3,0,0,0,0,0,0,5,3.7,8,8,7,5.3,5.3,6,6,5.3,5.7,6,6,5,4,4.5,2,3.3,1.8,.7,2,3,1.2,2.8,3,3,.7,1,.7,.7,3],
[8.7,8,8,8,7,7,7,7,6.5,6.5,10,10,9.3,9.8,7.5,7.5,7.5,7.3,5,4.8,5,5,5,2.5,3.5,3,3.5,3.2,0,0,0,0,0,4,4.2,5,5,0,0,0,0,0,0,5.5,5.5,5.7,5.7,5.5,5,5,5,5.2,5.2,5.2,5,5,2.7,1.3,1,.3,.3,.5,.5,1,1.2,.5,.7,1.8,1,.5,.5,.5,.3,.8],
[10,9.5,8.7,9,9.3,9.2,9.7,9.7,6.3,6.5,9.7,10,8.3,9,8.3,8,10,10,5.6,3.8,5.8,5.8,3,4.3,4,4,5.6,5.6,0,0,0,0,0,6.2,6,4,5,.5,.7,7.2,6.3,7,7,3,3,4.8,4.7,5.2,5.3,5.7,3.5,3.5,5.5,5.7,3,4.3,3,3.5,4.5,.3,1,5.8,6,3.5,4.7,3.7,3,5,4.5,.5,1,.7,1.5,3],
[6,6,5.8,6,8.3,8.3,9,9.5,6,6,6,6,6,5.8,6.5,6.3,9,9,0,0,4,3,.8,.8,.8,.8,0,0,0,0,0,0,0,6.8,6.8,8.7,8.7,1.3,1.4,6,5.7,6,6,5,5,10,10,10,5.8,5.8,6.3,6.3,5.7,5.7,0,0,2,1.8,1.7,1,.5,0,0,.7,.7,.5,.3,.7,.7,1.5,1.8,1,1,.7],
[8.5,7.5,7,7,7,7.5,7.8,7.5,5,5,8.7,8,7.5,7.3,6.3,6,9,9,3,1.2,1.2,1.2,3.5,2,3.5,3.5,2.5,2,0,0,0,0,0,1.2,2,3,3,4.7,5,2.5,1.2,2.3,2.3,2,2.3,3,3,3.5,4.3,4.8,2.7,3,5,5,9.5,9.5,6.5,6.5,5,10,9.5,5,5.3,6,6,7.5,3.2,5.3,5,9,8.2,8.5,7.5,6.5],
[9.5,9.7,6.8,5.5,8.7,8.2,7.3,7,9,8.3,10,9.8,8,7.7,6.2,5.7,9.3,9,6.5,7.8,4.2,5,6,6,7.3,8.3,5.5,5,0,0,0,0,0,2,2.5,4.3,3.5,0,0,0,0,0,0,6.7,7.3,6.3,6.7,9.8,6,7.3,3.8,3.8,7,6.5,10,10,1.8,2,3,0,0,1,1,1,1,.5,.8,1.5,1,0,0,0,.3,1.2]
];
const dGroups = ['CD4','CD8','NK','B','DC','Neu','MF','Mono','Mast','Eos'];
const dGroupCols = [[0,9.9],[10.1,15.8],[16.1,17.8],[18.1,32.8],[33.1,36.8],[37.1,42.7],[43.1,47.6],[48,53.7],[54,55.7],[56,73.8]];
const dGroupLabelX = [648,729,769,853,949,999,1054,1110,1150,1250];

// panel e: human heat map, same scale as d
const eGenes = ['SFXN1','ANO9','ATP6V0E2','NIPAL3','KCNA3','TMC8','TMEM63A','TMC6','LRRC8C','CNNM3','ATP2B4','CA5B','ITPR3','SARAF','MCUB','SLC20A2','ANXA6','MFSD8','AQP3','HAX1','FXYD5','GOPC','SLC25A23','FXYD7','SLC39A10','SLC4A7'];
const eRedGenes = ['KCNA3','TMC8','TMC6','LRRC8C','SARAF','ANXA6'];
const eSampleGroups = [
['CD4+ T Cells',3],['CD4+CD25-CD45RA+ naive conv. T cells expanded',3],['CD4+CD25-CD45RA+ naive conv. T cells',3],['CD4+CD25-CD45RA- memory conv. T cells expanded',1],['CD4+CD25-CD45RA- memory conv. T cells',3],['CD4+CD25+CD45RA+ naive Tregs expanded',1],['CD4+CD25+CD45RA+ naive Tregs',3],['CD4+CD25+CD45RA- memory Tregs expanded',1],['CD4+CD25+CD45RA- memory Tregs',3],['CD4+CD25+CD45RA- memory Tregs expanded',2],
['CD8+ T Cells (pluriselect)',8],['CD8+ T Cells',3],['NK T cell leukemia cell line',1],['Natural Killer Cells',3],['CD19+ B Cells (pluriselect)',8],['CD19+ B Cells',3],['Dendritic Cells - monocyte immature derived',3],['Dendritic Cells - plasmacytoid',3],['immature langerhans cells',2],['Macrophage - monocyte derived',3],['CD14+ Monocytes',3],['CD14+ monocyte derived endothelial progenitor cells',3],['CD14+ monocytes - mock treated',3],['CD14+CD16+ Monocytes',3],['CD14+CD16- Monocytes',3],['CD14-CD16+ Monocytes',3],['Neutrophils',3],['Eosinophils',2],['Mast cell - stimulated',1],['Mast cell',4]];
const eValues = [
[9.5,8,8.8,10,10,9.7,8.3,9,9,9.7,8.3,8.5,8.8,8.3,7,7,8,9,7.5,7,7.7,9.8,10,7.3,7.5,7.3,7.7,8.2,8.2,8,8,7,7.5,9,9.5,6.5,7,7,6,2.5,2.7,4.3,4.8,4.2,2.7,3.7,5.7,5,6.5,2.3,2.5,4,.7,3,2.7,0,.8,3.5,3.2,4.7,1,3,4,.5,3.5,1,0,0,0,.2,.5,.5,.3,.3,.5,.3,.3,.3,.2,.2,.2,.8,.2,7,6,0,0,0],
[8,6.3,9.5,8,9.5,9,9,7.5,10,8,9,7.5,9.2,10,7,6.5,8,7.5,8.8,8.8,10,9,9.3,7,7.5,7.5,6.8,7.5,9,8,6.5,6.5,6.3,6.8,2,5.5,5.5,5.5,5.2,5.5,3,3,5,4.7,5.5,4,5.7,6,6,.3,.3,.3,.3,.3,1.2,1.3,8.5,0,0,0,.2,.2,.2,0,1,0,0,0,0,0,0,0,0,0,0,0,0,0,0,0,0,.3,1,0,0,0,0,0],
[7,5.8,7,9.5,10,9,9,8,10,8.8,6.3,6.8,6.8,8.7,6.2,6.8,8,8.8,8,8,8,10,10,8.7,9,7.5,8,8,8,8,8,6,5.3,7.8,10,5.8,6.5,6.5,3,3,4.5,.7,3.7,3.7,2.5,2,4,1.2,3,2.7,3.5,4,.7,.3,1,0,0,5.7,5,5.7,1.5,1,2,4,6,4,.2,.2,.3,1.5,1.5,1.5,.7,.7,.8,1.2,2.5,2.5,0,0,0,0,0,1,7.5,3.5,4.7,5.3],
[7.5,4,7,7.5,6.2,7.3,9.7,10,8.5,8,8,8,8.7,8.5,8.3,8.3,9.8,8,8,8.8,8.8,8.3,7.3,9.3,8,7.5,8.7,8,8.3,9,6,6,4,6,5.3,5.7,4.3,5.2,4.8,6,7,4.8,5.5,5.3,5.3,5.5,3,1.2,3.7,3.8,3,2.7,6,4.5,3.5,1.3,2.2,2.2,1.5,2.2,1.2,.3,.3,2,2.2,2.2,.2,.2,.2,.7,.7,.7,.7,.7,.7,.2,.4,.4,0,0,0,.2,.2,.7,6,3.5,2.2,5.3],
[10,8.5,10,4.9,4.9,5,9.8,9.6,9,6,9.4,9.3,9.2,5.5,7.5,7,8,5.3,8,8.7,8.3,5.3,6.3,8.7,8.7,8.3,8.3,8,9.8,9.2,8.5,8.8,8.2,8.7,5.2,8,9,8,5,5,5.5,5.2,5,5.8,5,3.8,4.5,6,6,0,0,0,.8,.3,.3,0,0,0,0,0,3.8,4.5,4,0,1.5,0,4,3.3,6,0,0,0,0,0,0,0,0,0,0,0,0,.2,.8,0,0,0,0,0],
[8.8,7.2,7.3,8.3,8,7.2,9,10,10,7,5.2,7,5.5,8,6.2,7,9.5,6.5,5,5,6.8,7.5,7.5,7.5,7.5,4.3,7,7,8,8,5.3,7,7.7,7.7,6.3,8,7.3,7.8,3.5,3.5,3,2.2,2.2,4,3.3,3.2,6,5.7,5.5,0,0,0,.8,.8,.8,6.3,.5,1,.2,.8,1.5,2,2.5,0,0,0,0,0,0,1,1.2,.7,1,1,.7,1.8,2,1.3,.4,.4,.4,0,0,0,8.5,5,7.5,6.5],
[6.5,5.5,7,6,6.5,7.3,9,10,10,7,6.7,7,7,10,7.2,8.3,9.5,5.8,7.5,8.7,8.2,8.7,8.3,7.3,7.3,6,9.2,9.2,8,8,7,5.7,4.5,5.8,.8,4.8,4.3,3.8,5,5.3,3.5,5,5,4.7,5.2,5,6,5,5.5,2.7,3,2.7,7,4.5,7,0,.5,4,6,4.3,.8,1.2,1.3,5,5.5,5.8,.3,.2,.2,.3,.3,.3,1.3,1.5,.6,.6,.4,.2,.7,.3,.5,0,0,0,3.5,1.5,2.7,2.2],
[6.3,3.5,6.5,8,9,7,8.5,8.5,10,6.8,6.8,8.3,7,8.5,8.3,8,9,6,6.5,8.5,8.5,8.7,9,8,8,6.5,8.3,7.7,8,8.2,6.5,7,4.5,7,3.3,6,3.7,7,4,4,5,6,4.3,5.8,3.8,4,3.7,3.7,3.7,6,6,4.2,0,0,0,0,0,2,6,4.2,2,1,3,1.5,2,1.5,1,1,1.5,3,6,3.5,1,1.7,1,6,8.8,7,3,2.5,1.5,3,1.3,.3,5,2.2,2.2,2.5],
[9,9,10,5,6,5.5,7.2,6.7,6.5,7.5,8.2,8.5,7.5,5.2,6.5,6.7,6.5,6,9.3,9.5,8.3,5,4.3,7.3,6.8,6.5,8.5,8.5,6,7.3,6.5,8.7,9.5,8.7,1,7.3,9,6,.5,1,.5,.5,1,.3,.8,1,1,1.5,1,7.3,6.3,6,1,.2,1,3,3,5,1.2,4.5,5.5,6.2,5,4.2,3.8,4,4,7,7,1.2,1.2,1.2,3,3,4.5,1,1,1,.3,.3,.3,.3,.3,.5,.2,.2,.2,.2],
[8,6,7.2,8,5.6,7.2,7.2,8,9,8,5.7,5.7,9.3,4.2,7.5,9.5,2.5,8,7.7,5,7.5,5,7,9.5,10,6.3,8.5,9,10,9.3,9.7,7.8,6,9.5,6.5,7,4.7,8,5.5,8,9,8.3,6.5,8,8,9.3,5,3.5,6.5,2,2,1,5.3,5.5,6,1,1.5,.7,.7,.7,1,1.5,3,3,3.5,2.5,2,3,3,3,2.8,2.8,2.8,2.8,1,3,3,3.5,2.7,2.7,2.7,2.7,2.5,.3,5.7,3.5,3.5,5.2],
[6.5,6,7.5,7.5,6.8,8,4.3,3.5,4.3,9.3,8.5,7.5,9.7,8,3.5,2.5,3,10,8.7,8.2,10,9.5,9.5,8.5,8.5,8,9,9.7,9.7,10,8.7,8.7,9.3,7.3,4.8,10,9.5,9.3,2,.5,.3,.5,.7,.3,.5,.5,1.5,.8,.5,6,6.2,6.2,7,6.5,7.5,7.5,8,.7,4.8,4.5,3,3.5,3.7,1,4.5,3.3,5,4.3,6,1.5,.5,.5,3.5,3.5,5,1.5,1,.5,3.7,3.7,6.5,.7,1.5,1,5.7,3,.5,3],
[8.5,6.3,7.7,2,2.7,6,8.5,8.8,9.3,6.5,9.3,9,10,5.8,8.3,8,8,6.5,7.5,7.5,7.5,3,2,7.5,8,7.2,9,9,9,9.3,7.7,7.7,5.7,6.7,.5,7.2,7,7,2,4,5.2,2.5,4,3.5,3.5,5.3,7,5.3,6,0,0,0,.2,.2,.3,3.3,3.7,.4,.2,.2,1,1.2,2.7,.3,1.2,.5,1,1,1,3.8,5,3,3,4,3,5.3,6,6,0,0,0,0,0,.2,.5,8,8.5,6.8],
[7.7,6.8,9.3,7,4.8,7.2,7,7.5,9.3,7.7,7.3,6.8,7.5,7.2,5.5,5,9,5.5,6.7,6.3,9,8,8,7.3,7,6.3,7.5,7.8,8.8,6.3,6.7,9.7,10,9.7,8.7,9,9.3,9,4.3,3.5,4.8,3.3,5,3.3,5,3,8,9.8,9.5,0,0,0,.2,.3,.3,5,10,.2,.2,.2,2,1.5,1,.3,1.7,.2,.2,.2,.2,.2,.2,.2,.2,.2,.2,.2,.2,.2,.2,.2,.2,.2,.2,.2,.2,8,3.5,9],
[9,8,9.5,5.5,6,6,10,10,10,5,8,9.5,8,3.5,10,10,10,4.8,9,9,7,2,2,7.5,7.5,7.5,7.5,6.8,6.5,6.5,7,7,7,8.3,.3,6,7,7,4,3.7,4,1.5,3,3.7,3.7,3.7,6,6.5,6.5,1.8,2,.8,5.3,5.3,6,.7,1.2,.5,.5,.5,1,1.5,3.3,3.3,3.7,3,2.5,3,3,2.8,2.8,2.8,2.8,2.8,.7,5,5,5,5.5,3.5,4,4.5,2.8,.2,3.8,5.3,5.3,5.5],
[8.5,5,8,8,8,9.5,9.7,9.5,10,8,9,9,9.5,7.7,9.5,9,9.3,5.8,7,7.5,7,4.5,4,9.3,8.7,8,8,8,8,8,7.3,5,3.7,7,3.3,3,3,3.3,7.3,5,6,4,6,5.2,6,5.2,4.8,3.5,3.8,0,0,0,3.5,4,5.7,2,0,2,.3,2,3.8,3.8,3.8,1,2,1.7,8.5,9,9,6,5,6,4.5,5.7,5.7,3.5,4,5.5,0,0,0,0,0,0,.5,1,2,.5],
[7.3,7.3,8,8.7,9,8,7.5,8.2,7.7,8.7,6.5,6.8,6,10,7.5,7.5,6.5,8,6.5,5.7,6.5,10,10,5.5,5,3,5.7,5.7,6,5.2,3.8,6.5,6.7,6.7,9.5,6.5,7.5,7.5,3,3,3.8,2.5,3.7,5,3,3.8,5,5.7,6,2,4,3.5,5,5,5.7,6,10,2,5,4.5,4.5,4.5,3.7,3.2,3.2,3.7,3.7,3.7,5.8,2,2.7,1.7,2.7,3,2.7,2,2,1.5,1,.5,.5,1,1.8,5,5.7,3.7,3.7,3.7],
[4.3,2.5,6,9.5,10,9.5,5,5,8.7,9.7,6,6.5,8,7.3,2,2.8,5.2,8.7,5.5,6.5,7.3,9,9.3,8.3,8.7,8.3,8.5,8.7,8.8,8.7,8.7,6.5,4.3,5.2,8.5,7.3,5.7,6.3,8.3,9,9,7,9,8.7,9,8.3,7.3,5,5,2,2,3.5,1,1,1,1,.3,5,1,5,1,1,1.2,1,1,1,.3,.3,.3,1,.8,.8,3,2.2,2.2,.8,.5,.5,0,0,0,0,0,.5,3,4,4,6],
[8.3,3.5,3.5,3.3,2,7.3,9,10,9.7,7.3,7.7,8.5,8.7,8,9.2,8.7,5.7,7.2,8.8,8.8,10,4.3,4.5,8.8,10,8.5,9.8,10,9.2,9.2,7.3,6.7,4,6.5,3.2,6.5,3.7,6,3.2,9.7,8,7.3,7.3,9,7.3,6,7,5.7,5.5,2.2,.8,.8,6.7,5.5,6.3,2,1.2,3.3,3,1.8,.5,.5,.7,5,6,3.5,2.7,2,3.8,4.5,4.3,3,3,3,3.8,3.7,5,3.8,2,.3,1,.3,.3,2.2,5,.3,2,1],
[6,6.5,7.2,6,6,6.5,6.5,6.2,6.5,8,7.7,8.2,5.7,9,6.2,6,6,8.3,7.7,8.3,6.5,10,9.2,6.5,5.8,5.8,6.5,6.2,6,6,5.5,5.5,5.5,5.5,5.3,5.5,5.5,5.5,3.5,3,4.5,5,3,4.3,4.7,4.5,.2,1,.2,8.5,8.7,9.3,5,3,5,3.7,9,0,1,1.5,.2,.5,1.7,.3,.3,.3,.3,.3,.3,.3,.3,.3,.3,.3,.3,.3,.3,.3,.3,.3,.3,.3,1.7,.3,.2,.5,.2,.2],
[2.5,1,1.8,7.3,8,9,7.5,5.7,6.8,9,5.5,6.3,6,9.8,5.3,6,7.5,10,8,8,7.7,8.7,8.2,8,7.5,8,8.2,8.5,7.3,8,7.8,1,.5,1,10,1,.7,.7,6,6.5,6,7,7,5.8,7.7,7,1,.7,.8,3,3,2.8,2.7,2,2,2,1.3,3.7,5.7,3.7,.3,.3,.2,3.8,3.8,3.5,1.5,1.8,1.7,5.8,5,5.2,2.7,3.7,2.5,5.6,6.5,5.8,0,0,0,0,0,3.8,7,5,5,5.2],
[6.7,4.5,7.3,8,9.3,10,5.7,6.2,6.7,8.8,6,6.5,6.2,8.7,5.5,6,6,10,6.7,8.7,7.2,7.3,7.2,5,5,4.8,5.8,5.5,5.5,5.5,5,3.3,3.3,3.8,1.8,3.3,3.8,3.3,5,5,5.3,3,3.8,4.7,5.7,4.3,3,4,5.7,.3,.3,1,1,1,1.2,.5,.5,2,2,1.5,1.5,4.3,3,1.5,3,2,5.5,7.3,5.8,4,4.7,3.3,5,5,5.5,3.8,5,3.7,.3,.2,.2,0,0,10,8.5,5.3,6,5.7],
[6,3.5,5.3,6.8,8.3,6.8,6.7,5.2,7,9,4.8,5,6,9,5.8,6,4.5,8.5,4.8,4.7,5.5,9,9,9.3,9.7,9,8.3,9.4,9.4,9,10,5,2,4.5,9.3,3.7,3,3,8.2,9,7.5,7.5,7,8.3,9,9.5,3,1.8,3,4.5,3.8,3.7,5,2.3,4.5,2.3,3,5,3,3.8,1.2,.7,.7,7.3,7,7.2,2,1.8,2.3,2.5,2,2,1.8,2.2,4,3.5,2.5,2.8,0,0,0,0,0,5,7,6,6.3,6.5],
[7.2,7.5,5.7,8.8,8,9.5,8,7.2,8,6.5,4,5,5.2,8,5,5.3,6.7,6.7,3,4,5,8.5,7,7,7,5.6,6.7,7.8,4.5,7,7,6,5.7,6.3,5.7,4.5,6,6,3,5.5,6,6.3,6.3,4.3,6,4.5,5.5,6,5,10,10,10,.3,2,.5,1.5,.5,6,3,5.5,.3,.8,.5,1.5,3.5,0,0,0,0,0,0,0,0,0,0,0,0,0,0,0,0,0,0,.3,4,.2,.2,.8],
[5.5,5.7,6.5,6,7,5.7,3.8,4,3.2,5.7,5,5.3,5.5,2.5,6,7,6.3,10,5.5,6.5,5.6,6,6,6.5,6.7,6.3,6.5,6.5,6.7,6.8,7,7.3,6.5,6.3,.3,5.7,5.7,5.3,9,8.3,8.5,6,6.7,8,8.3,6.3,2,3,7.3,0,0,0,0,0,.5,.5,0,0,0,0,0,0,.5,0,.5,0,0,0,0,0,0,0,0,0,0,0,0,0,0,0,0,0,0,4.8,5.3,5.3,5.5,3.5],
[4.9,2,3.8,6.5,6.5,7.8,5.5,5.7,5.7,7,5.2,5.5,5.7,7.3,5.7,5.5,5.5,5.6,3,4.8,5,5,5,5.7,5.7,5,6.2,7,6,6,5.5,5.2,5.2,5.2,5.2,5.6,5,4.8,6,6,7.5,5.2,6,7,6.5,6.2,3.5,3,2,3,3,4.8,5,4.8,5,1,.5,2,1.8,1.5,1,1.8,3.3,3.3,3.3,.5,1.5,1.2,2,2,1.5,1,1,1,1.5,1.5,1.5,1.5,0,0,0,0,0,8,10,4.3,5.7,5.3],
[6,3,6.5,6,5.5,6.3,3.8,3.3,2.5,8.7,7,6.5,6,5.5,5.2,4.2,3.5,9.5,7.3,8,7.2,6,5.8,6.3,5.3,5.8,6,5.8,5.7,6,6.5,5,5,4.5,5,4,4.3,3.8,3.8,5.5,5.3,5.2,5.7,5.8,5.3,4.5,5,4,3.8,5.2,5.8,4.3,3,1.5,3.3,10,6.5,6.5,3.5,6.5,2,2.7,1.8,5,4,5.5,5.2,7,6.8,.5,1,.5,1,1,1,1.2,1.2,1,0,0,0,0,0,10,3,1.7,3.3,2]
];
const eGroups = ['CD4','CD8','NKT','NK','B','DC','MF','Mono','Neu','Eos','Mast'];
const eGroupCols = [[0,22.9],[23.2,33.9],[34.1,34.9],[35.1,37.9],[38.2,48.6],[49,56.6],[57,59.8],[60,77.8],[78,80.8],[81,82.8],[83,87.9]];
const eGroupLabelX = [397,567,622,647,715,812,870,967,1078,1103,1137];

const legendLevels = [10,7.8,6,5.2,3.6,1.2,.6,0];
const heatScale = [[0,'#3b57a6'],[.1,'#566bb2'],[.2,'#7f8ec8'],[.3,'#a3aeda'],[.4,'#ccd2ec'],[.5,'#ffffff'],[.6,'#fcdce1'],[.7,'#fab9bd'],[.8,'#f68f95'],[.9,'#f1595e'],[1,'#ee2024']];

const W = 1409, H = 1800;
const FONT = '"Liberation Sans", Arial, sans-serif';
const RED = '#ee2024', BLUE = '#3a57a6', TXT_BLUE = '#2b4aa0';
const SUPER = { '-': '⁻', 0: '⁰', 1: '¹', 2: '²', 3: '³', 4: '⁴' };
const LOG10 = '(log₁₀)';
const fx = px => px / W;
const fy = py => 1 - py / H;

const traces = [], shapes = [], annotations = [];
const layout = {
    width: W, height: H, margin: { l: 0, r: 0, t: 0, b: 0 },
    paper_bgcolor: '#fff', plot_bgcolor: 'rgba(0,0,0,0)', showlegend: false,
    font: { family: FONT, color: '#222' }, shapes, annotations
};

let axisCount = 0;
// makes one x/y axis pair that sits on a pixel box of the page
function addAxes(box, xOpts, yOpts) {
    axisCount += 1;
    const n = axisCount === 1 ? '' : axisCount;
    layout['xaxis' + n] = { domain: [fx(box[0]), fx(box[2])], anchor: 'y' + n, zeroline: false, showgrid: false, ...xOpts };
    layout['yaxis' + n] = { domain: [fy(box[3]), fy(box[1])], anchor: 'x' + n, zeroline: false, showgrid: false, ...yOpts };
    return { x: 'x' + n, y: 'y' + n };
}

function note(x, y, text, size, opts) {
    annotations.push({
        xref: 'paper', yref: 'paper', x: fx(x), y: fy(y), text, showarrow: false,
        xanchor: 'center', yanchor: 'middle', font: { size, family: FONT, color: '#222' }, ...opts
    });
}

function logTicks(lo, hi) {
    const vals = [], text = [];
    for (let i = lo; i <= hi; i++) {
        vals.push(i);
        text.push('10' + String(i).split('').map(ch => SUPER[ch]).join(''));
    }
    return { tickmode: 'array', tickvals: vals, ticktext: text };
}

function minorLogTicks(lo, hi) {
    const vals = [];
    for (let i = lo; i < hi; i++) for (let k = 2; k < 10; k++) vals.push(i + Math.log10(k));
    return vals;
}

function dots(ax, points, color, size) {
    traces.push({
        type: 'scatter', mode: 'markers', xaxis: ax.x, yaxis: ax.y, cliponaxis: false, hoverinfo: 'skip',
        x: points.map(p => p[0]), y: points.map(p => p[1]),
        marker: { color, size, line: { width: 0 } }
    });
}

// --- panel a ---
function drawPanelA() {
    const frame = { showline: true, mirror: true, linecolor: '#222', linewidth: 1.5, ticks: 'outside', ticklen: 2, tickwidth: .8, tickfont: { size: 7, color: '#333' }, range: [-2, 4] };
    const ax = addAxes([45.7, 84, 270, 303], { ...frame, ...logTicks(-2, 4) }, { ...frame, ...logTicks(-2, 4) });
    shapes.push({ type: 'rect', xref: ax.x, yref: ax.y, x0: 0, x1: 4, y0: 0, y1: 4, fillcolor: '#fde8dd', line: { width: 0 }, layer: 'below' });
    shapes.push({ type: 'line', xref: ax.x, yref: ax.y, x0: 0, x1: 0, y0: -2, y1: 4, line: { color: '#555', width: 1.2 } });
    shapes.push({ type: 'line', xref: ax.x, yref: ax.y, x0: -2, x1: 4, y0: 0, y1: 0, line: { color: '#555', width: 1.2 } });
    dots(ax, aPoints, '#000', 5);
    note(157, 65, 'CD4⁺ T cells', 20);
    note(253, 96, '148', 13.5, { font: { size: 13.5, family: FONT, color: RED } });
    note(160, 332, 'Immgen ICT gene exp. ' + LOG10, 18);
    note(13, 194, 'Fantom5 ICT gene exp. ' + LOG10, 18.5, { textangle: -90 });
}

// --- panel b ---
function drawPanelB() {
    const lefts = [379.5, 591.7, 803.5, 1017, 1231.5];
    const tops = [23.7, 223.7];
    panelNames.forEach((name, i) => {
        const col = i % 5, row = Math.floor(i / 5);
        const box = [lefts[col], tops[row], lefts[col] + 170, tops[row] + 169];
        const axis = {
            showline: true, mirror: true, linecolor: '#8a8a8a', linewidth: 1.4, range: [0, 4],
            ticks: 'outside', ticklen: 2.5, tickwidth: .8, tickcolor: '#555', tickfont: { size: 8, color: '#333' },
            ...logTicks(0, 4),
            minor: { tickmode: 'array', tickvals: minorLogTicks(0, 4), ticks: 'outside', ticklen: 1.5, tickwidth: .7, tickcolor: '#666' }
        };
        const ax = addAxes(box, axis, axis);
        const fold = Math.log10(2);
        shapes.push({ type: 'path', xref: ax.x, yref: ax.y, path: `M ${fold},0 L 4,0 L 4,${4 - fold} Z`, fillcolor: '#eef0ef', line: { width: 0 }, layer: 'below' });
        shapes.push({ type: 'line', xref: ax.x, yref: ax.y, x0: 0, y0: 0, x1: 4, y1: 4, line: { color: '#222', width: 1 }, layer: 'below' });
        shapes.push({ type: 'line', xref: ax.x, yref: ax.y, x0: 0, y0: fold, x1: 4 - fold, y1: 4, line: { color: '#ef6a35', width: 1.2, dash: '3px,1.5px' }, layer: 'below' });
        shapes.push({ type: 'line', xref: ax.x, yref: ax.y, x0: fold, y0: 0, x1: 4, y1: 4 - fold, line: { color: '#ef6a35', width: 1.2, dash: '3px,1.5px' }, layer: 'below' });

        dots(ax, cd4X.map((x, k) => [x, panelY[i][k]]), '#000', 4.2);
        dots(ax, panelBlue[i], BLUE, 3.2);
        dots(ax, panelRed[i], RED, 3.4);

        const tx = box[0] + 7.5;
        const ink = { xanchor: 'left', font: { size: 13.5, family: FONT, color: '#333' } };
        note(tx, box[1] + 13.5, 'CD4 T cells', 13.5, ink);
        note(tx, box[1] + 26.5, '<i>vs.</i>', 13.5, ink);
        note(tx, box[1] + 39, name, 13.5, ink);
        note(box[2] - 7, box[3] - 12.5, 'R² = ' + panelR2[i], 13.5, { xanchor: 'right', font: ink.font });
        note(box[0] - 25, (box[1] + box[3]) / 2 + 2, name, 16.5, { textangle: -90 });
    });
    note(326, 211, 'ICT gene exp. ' + LOG10, 20, { textangle: -90 });
    note(873, 434, 'CD4⁺ T cells ICT gene exp. ' + LOG10, 20);
}

// --- panel c ---
function drawPanelC() {
    const axis = {
        showline: true, linecolor: '#222', linewidth: 1.5, range: [-1, 4],
        ticks: 'outside', ticklen: 6, tickwidth: 1.5, tickcolor: '#222', tickfont: { size: 16.5, color: '#222' },
        ...logTicks(-1, 4)
    };
    const ax = addAxes([162.7, 557.7, 484.3, 879.3], axis, axis);
    dots(ax, cBlack, '#000', 4.3);
    dots(ax, cBlue, BLUE, 6.5);
    dots(ax, cRed, '#ee3124', 6.5);

    // gene, point, text offset in pixels
    const tags = [
        [cLabels[0], cRed[1], -18, -11, RED, false],
        [cLabels[1], cRed[0], 20, 13, RED, false],
        [cLabels[2], cRed[2], -19, -26, RED, true],
        [cLabels[3], cRed[3], -44, -17, RED, true],
        [cLabels[4], cRed[4], 45, 39, RED, true],
        [cLabels[5], cRed[5], -53, -13, RED, true],
        [cLabels[6], cBlue[8], -61, -24, TXT_BLUE, true],
        [cLabels[7], cBlue[17], -70, -3, TXT_BLUE, true],
        [cLabels[8], cBlue[5], 30, 2, TXT_BLUE, false],
        [cLabels[9], cBlue[6], 41, 19, TXT_BLUE, true],
        [cLabels[10], cBlue[11], 44, 12, TXT_BLUE, true]
    ];
    tags.forEach(t => {
        annotations.push({
            xref: ax.x, yref: ax.y, x: t[1][0], y: t[1][1], text: '<i>' + t[0] + '</i>',
            showarrow: true, ax: t[2], ay: t[3], arrowhead: 0, arrowwidth: t[5] ? 1 : .01,
            arrowcolor: t[5] ? t[4] : 'rgba(0,0,0,0)', standoff: 0, borderpad: 0,
            font: { size: 18, family: FONT, color: t[4] }
        });
    });

    note(317, 548, 'Mouse CD4⁺ T cells', 23);
    note(333, 929, 'Immgen ICT gene exp. ' + LOG10, 21);
    note(104, 722, 'Haemop. ICT gene exp. ' + LOG10, 21, { textangle: -90 });
}

// --- panels d, e ---
function geneTick(gene, reds, col) {
    return `<span style="color:${reds.includes(gene) ? RED : col}">${gene}</span>`;
}

function drawHeat(box, values, samples, genes, reds, otherCol, geneSize, split) {
    const cols = samples.map((_, i) => i);
    const rows = genes.map((_, i) => i);
    const frame = { showline: true, mirror: true, linecolor: '#333', linewidth: 1.6, ticks: '' };
    const ax = addAxes(box,
        { ...frame, side: 'top', range: [-.5, samples.length - .5], tickmode: 'array', tickvals: cols, ticktext: samples, tickangle: -90, ticklabelstandoff: 1, tickfont: { size: 7.3, color: '#222' } },
        { ...frame, range: [genes.length - .5, -.5], tickmode: 'array', tickvals: rows, ticktext: genes.map(g => geneTick(g, reds, otherCol)), ticklabelstandoff: 4, tickfont: { size: geneSize, style: 'italic', color: otherCol } });
    traces.push({ type: 'heatmap', xaxis: ax.x, yaxis: ax.y, z: values, x: cols, y: rows, zmin: 0, zmax: 10, colorscale: heatScale, showscale: false, hoverinfo: 'skip' });
    shapes.push({ type: 'line', xref: ax.x, yref: ax.y, x0: split, x1: split, y0: -.5, y1: genes.length - .5, line: { color: '#333', width: 1.6 } });
    return ax;
}

function drawBrackets(ax, names, colRanges, labelX, lineY, labelY) {
    names.forEach((name, i) => {
        shapes.push({ type: 'line', xref: ax.x, yref: 'paper', x0: colRanges[i][0] - .5, x1: colRanges[i][1] - .5, y0: fy(lineY), y1: fy(lineY), line: { color: '#444', width: 1.4 } });
        note(labelX[i], labelY, name, 12);
    });
}

function drawKey(box, textX, textY) {
    const ax = addAxes(box, { visible: false, range: [-.5, legendLevels.length - .5] }, { visible: false, range: [-.5, .5] });
    traces.push({ type: 'heatmap', xaxis: ax.x, yaxis: ax.y, z: [legendLevels], zmin: 0, zmax: 10, colorscale: heatScale, showscale: false, xgap: 1, hoverinfo: 'skip' });
    note(textX, textY, 'Gene expression', 17.7);
    note(textX, textY + 18, '(row max-min)', 17.7);
}

function drawPanelD() {
    const ax = drawHeat([599.3, 516, 1341.3, 1000.7], dValues, dSamples, dGenes, dRedGenes, TXT_BLUE, 15, 15.5);
    drawBrackets(ax, dGroups, dGroupCols, dGroupLabelX, 1007, 1016);
    note(684, 1047, 'T cells', 22);
    note(1041, 1047, 'non T cells', 22);
    drawKey([1211.7, 1043.3, 1335.7, 1057.3], 1273, 1077);
}

function drawPanelE() {
    const samples = eSampleGroups.flatMap(g => Array(g[1]).fill(g[0]));
    const ax = drawHeat([280, 1261.3, 1164.4, 1746], eValues, samples, eGenes, eRedGenes, '#222', 14, 34.5);
    drawBrackets(ax, eGroups, eGroupCols, eGroupLabelX, 1751.7, 1762.7);
    note(457, 1784, 'T cells', 22);
    note(898, 1784, 'non T cells', 22);
    drawKey([1184.5, 1689.3, 1309.5, 1703.3], 1247, 1722.7);
}

drawPanelA();
drawPanelB();
drawPanelC();
drawPanelD();
drawPanelE();

// panel letters
const letterFont = { size: 32, family: 'DejaVu Sans, sans-serif', color: '#111', weight: 'bold' };
[['a', 10, 20], ['b', 313, 20], ['c', 77, 480], ['d', 522, 475], ['e', 203, 1086]].forEach(l => {
    note(l[1], l[2], '<b>' + l[0] + '</b>', 32, { font: letterFont });
});

Plotly.newPlot('chart', traces, layout, { displayModeBar: false, responsive: false });
</script>
</body>
</html>
